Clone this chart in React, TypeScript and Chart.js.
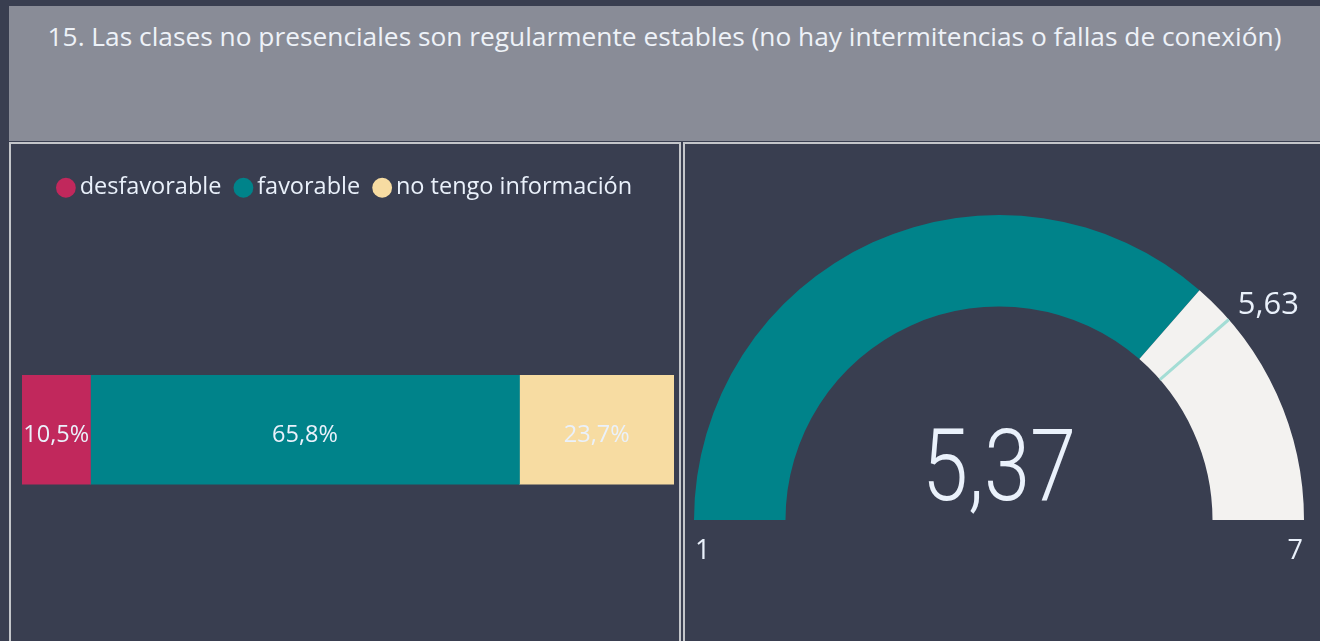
import React, { useEffect, useRef } from "react";
import { Chart, registerables } from "chart.js";

Chart.register(...registerables);

// ---------- data ----------
const titleText =
  "15. Las clases no presenciales son regularmente estables (no hay intermitencias o fallas de conexión)";
const categories = ["respuestas"];
const seriesLabels = ["desfavorable", "favorable", "no tengo información"];
const seriesValues = [10.5, 65.8, 23.7];
const seriesColors = ["#c1285c", "#00838a", "#f7dca2"];

const gaugeMin = 1;
const gaugeMax = 7;
const gaugeValue = 5.37;
const gaugeTarget = 5.63;
const gaugeColors = ["#00838a", "#f3f2f0"];

// ---------- styles ----------
const BG = "#393e50";
const TEXT = "#eaf1fb";
const FONT = "'Open Sans', 'Noto Sans', sans-serif";

const fmt = (v: number, d: number) => v.toFixed(d).replace(".", ",");

const barLabelPlugin = {
  id: "barLabels",
  afterDatasetsDraw(chart: any) {
    const ctx = chart.ctx;
    ctx.save();
    ctx.font = `23.5px ${FONT}`;
    ctx.fillStyle = TEXT;
    ctx.textAlign = "center";
    ctx.textBaseline = "middle";
    chart.data.datasets.forEach((ds: any, i: number) => {
      const meta = chart.getDatasetMeta(i);
      meta.data.forEach((el: any, j: number) => {
        const { x, y, base } = el.getProps(["x", "y", "base"], true);
        ctx.fillText(fmt(ds.data[j], 1) + "%", (x + base) / 2, y + 6);
      });
    });
    ctx.restore();
  },
};

const gaugePlugin = {
  id: "gaugeExtras",
  afterDatasetsDraw(chart: any) {
    const meta = chart.getDatasetMeta(0);
    const arc = meta.data[0];
    if (!arc) return;
    const { x, y, innerRadius, outerRadius } = arc.getProps(
      ["x", "y", "innerRadius", "outerRadius"],
      true
    );
    const ctx = chart.ctx;
    ctx.save();
    // target line
    const frac = (gaugeTarget - gaugeMin) / (gaugeMax - gaugeMin);
    const ang = -Math.PI + frac * Math.PI;
    const c = Math.cos(ang);
    const s = Math.sin(ang);
    ctx.strokeStyle = "#a3ddd5";
    ctx.lineWidth = 3;
    ctx.beginPath();
    ctx.moveTo(x + c * innerRadius, y + s * innerRadius);
    ctx.lineTo(x + c * outerRadius, y + s * outerRadius);
    ctx.stroke();
    // target label
    ctx.fillStyle = TEXT;
    ctx.font = `31px ${FONT}`;
    ctx.textAlign = "left";
    ctx.textBaseline = "alphabetic";
    ctx.fillText(fmt(gaugeTarget, 2), x + c * outerRadius + 9, y + s * outerRadius - 6);
    // min / max
    ctx.font = `27px ${FONT}`;
    ctx.textAlign = "left";
    ctx.fillText(String(gaugeMin), x - outerRadius + 1, y + 39);
    ctx.textAlign = "right";
    ctx.fillText(String(gaugeMax), x + outerRadius - 1, y + 39);
    // value
    ctx.translate(x, y - 20);
    ctx.scale(0.83, 1);
    ctx.font = `300 100px Roboto, ${FONT}`;
    ctx.textAlign = "center";
    ctx.fillText(fmt(gaugeValue, 2), 0, 0);
    ctx.restore();
  },
};

export default function App() {
  const barRef = useRef<HTMLCanvasElement | null>(null);
  const gaugeRef = useRef<HTMLCanvasElement | null>(null);

  useEffect(() => {
    const bar = new Chart(barRef.current as HTMLCanvasElement, {
      type: "bar",
      data: {
        labels: categories,
        datasets: seriesLabels.map((l, i) => ({
          label: l,
          data: [seriesValues[i]],
          backgroundColor: seriesColors[i],
          borderWidth: 0,
          barThickness: 109,
        })),
      },
      options: {
        indexAxis: "y",
        animation: false,
        responsive: false,
        maintainAspectRatio: false,
        layout: { padding: { top: 12, left: 11, right: 5, bottom: 0 } },
        scales: {
          x: { stacked: true, min: 0, max: 100, display: false },
          y: { stacked: true, display: false },
        },
        plugins: {
          legend: {
            position: "top",
            labels: {
              usePointStyle: true,
              pointStyle: "circle",
              boxWidth: 4,
              boxHeight: 14,
              padding: 20,
              color: TEXT,
              font: { family: FONT, size: 23.5 },
            },
          },
          tooltip: { enabled: false },
        },
      } as any,
      plugins: [barLabelPlugin],
    });

    const gauge = new Chart(gaugeRef.current as HTMLCanvasElement, {
      type: "doughnut",
      data: {
        labels: ["valor", "resto"],
        datasets: [
          {
            data: [gaugeValue - gaugeMin, gaugeMax - gaugeValue],
            backgroundColor: gaugeColors,
            borderWidth: 0,
          },
        ],
      },
      options: {
        animation: false,
        responsive: false,
        maintainAspectRatio: false,
        rotation: -90,
        circumference: 180,
        cutout: "70%",
        layout: { padding: { top: 71, left: 9, right: 16, bottom: 121 } },
        plugins: { legend: { display: false }, tooltip: { enabled: false } },
      } as any,
      plugins: [gaugePlugin],
    });

    return () => {
      bar.destroy();
      gauge.destroy();
    };
  }, []);

  return (
    <div
      style={{
        position: "fixed",
        left: 0,
        top: 0,
        width: 1320,
        height: 641,
        background: BG,
        overflow: "hidden",
        fontFamily: FONT,
      }}
    >
      <div
        style={{
          position: "absolute",
          left: 9,
          top: 6,
          width: 1311,
          height: 135,
          background: "#898c97",
        }}
      >
        <div
          style={{
            position: "absolute",
            left: 0,
            right: 0,
            top: 14,
            textAlign: "center",
            color: "#eef2f8",
            fontSize: 26.3,
            lineHeight: "32px",
            whiteSpace: "nowrap",
          }}
        >
          {titleText}
        </div>
      </div>
      <div
        style={{
          position: "absolute",
          left: 9,
          top: 142,
          width: 672,
          height: 540,
          border: "2px solid #c4c6ca",
          boxSizing: "border-box",
          overflow: "hidden",
        }}
      >
        <canvas ref={barRef} width={668} height={506} style={{ display: "block" }} />
      </div>
      <div
        style={{
          position: "absolute",
          left: 683,
          top: 142,
          width: 660,
          height: 540,
          border: "2px solid #c4c6ca",
          boxSizing: "border-box",
          overflow: "hidden",
        }}
      >
        <canvas ref={gaugeRef} width={635} height={497} style={{ display: "block" }} />
      </div>
    </div>
  );
}
